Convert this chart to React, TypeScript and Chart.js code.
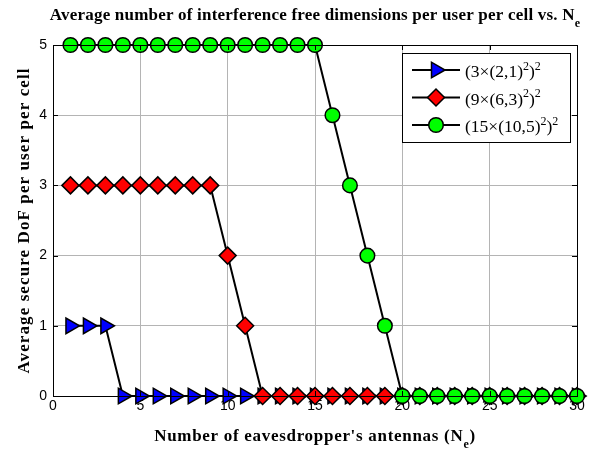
import React, { useEffect, useRef } from 'react';
import { Chart, registerables } from 'chart.js';
import { drawPoint } from 'chart.js/helpers';

Chart.register(...registerables);

const NE = [1, 2, 3, 4, 5, 6, 7, 8, 9, 10, 11, 12, 13, 14, 15, 16, 17, 18, 19, 20, 21, 22, 23, 24, 25, 26, 27, 28, 29, 30];
const DOF_A = [1, 1, 1, 0, 0, 0, 0, 0, 0, 0, 0, 0, 0, 0, 0, 0, 0, 0, 0, 0, 0, 0, 0, 0, 0, 0, 0, 0, 0, 0];
const DOF_B = [3, 3, 3, 3, 3, 3, 3, 3, 3, 2, 1, 0, 0, 0, 0, 0, 0, 0, 0, 0, 0, 0, 0, 0, 0, 0, 0, 0, 0, 0];
const DOF_C = [5, 5, 5, 5, 5, 5, 5, 5, 5, 5, 5, 5, 5, 5, 5, 4, 3, 2, 1, 0, 0, 0, 0, 0, 0, 0, 0, 0, 0, 0];
const X_TICKS = [0, 5, 10, 15, 20, 25, 30];
const Y_TICKS = [0, 1, 2, 3, 4, 5];

type Piece = { t: string; sup?: boolean; sub?: boolean };
const LEGEND_A: Piece[] = [{ t: '(3×(2,1)' }, { t: '2', sup: true }, { t: ')' }, { t: '2', sup: true }];
const LEGEND_B: Piece[] = [{ t: '(9×(6,3)' }, { t: '2', sup: true }, { t: ')' }, { t: '2', sup: true }];
const LEGEND_C: Piece[] = [{ t: '(15×(10,5)' }, { t: '2', sup: true }, { t: ')' }, { t: '2', sup: true }];
const TITLE: Piece[] = [{ t: 'Average number of interference free dimensions per user per cell vs. N' }, { t: 'e', sub: true }];
const X_LABEL: Piece[] = [{ t: "Number of eavesdropper's antennas (N" }, { t: 'e', sub: true }, { t: ')' }];
const Y_LABEL: Piece[] = [{ t: 'Average secure DoF per user per cell' }];

const SERIF = '"Liberation Serif", "Times New Roman", serif';

function drawRich(ctx: CanvasRenderingContext2D, pieces: Piece[], x: number, y: number, size: number, bold: boolean, align: 'left' | 'center', spacing = 0) {
  const w = bold ? 'bold ' : '';
  const small = Math.round(size * 0.7);
  const fontFor = (p: Piece) => `${w}${p.sup || p.sub ? small : size}px ${SERIF}`;
  (ctx as any).letterSpacing = `${spacing}px`;
  let total = 0;
  for (const p of pieces) {
    ctx.font = fontFor(p);
    total += ctx.measureText(p.t).width;
  }
  let cx = align === 'center' ? x - total / 2 : x;
  ctx.textAlign = 'left';
  ctx.textBaseline = 'alphabetic';
  ctx.fillStyle = '#000';
  for (const p of pieces) {
    ctx.font = fontFor(p);
    const dy = p.sup ? -size * 0.42 : p.sub ? size * 0.4 : 0;
    ctx.fillText(p.t, cx, y + dy);
    cx += ctx.measureText(p.t).width;
  }
  (ctx as any).letterSpacing = '0px';
}

const decorPlugin = {
  id: 'decor',
  afterDraw(chart: any) {
    const ctx: CanvasRenderingContext2D = chart.ctx;
    const { left, right, top, bottom } = chart.chartArea;
    const xs = chart.scales.x;
    const ys = chart.scales.y;
    ctx.save();
    ctx.strokeStyle = '#000';
    ctx.lineWidth = 1;
    ctx.strokeRect(Math.round(left) + 0.5, Math.round(top) + 0.5, Math.round(right - left), Math.round(bottom - top));
    const tl = 5;
    ctx.beginPath();
    for (const v of X_TICKS) {
      const px = Math.round(xs.getPixelForValue(v)) + 0.5;
      ctx.moveTo(px, bottom);
      ctx.lineTo(px, bottom - tl);
      ctx.moveTo(px, top);
      ctx.lineTo(px, top + tl);
    }
    for (const v of Y_TICKS) {
      const py = Math.round(ys.getPixelForValue(v)) + 0.5;
      ctx.moveTo(left, py);
      ctx.lineTo(left + tl, py);
      ctx.moveTo(right, py);
      ctx.lineTo(right - tl, py);
    }
    ctx.stroke();

    drawRich(ctx, TITLE, (left + right) / 2, 20, 17, true, 'center', 0.2);
    drawRich(ctx, X_LABEL, (left + right) / 2, 441, 17, true, 'center', 0.7);
    ctx.save();
    ctx.translate(29, (top + bottom) / 2);
    ctx.rotate(-Math.PI / 2);
    drawRich(ctx, Y_LABEL, 0, 0, 17, true, 'center', 1.1);
    ctx.restore();

    const lx = 402, ly = 53, lw = 168, lh = 89;
    ctx.fillStyle = '#fff';
    ctx.fillRect(lx, ly, lw, lh);
    ctx.strokeStyle = '#000';
    ctx.lineWidth = 1;
    ctx.strokeRect(lx + 0.5, ly + 0.5, lw, lh);
    const rows = [LEGEND_A, LEGEND_B, LEGEND_C];
    const dsets = chart.data.datasets;
    rows.forEach((pieces, i) => {
      const ry = ly + 17 + i * 27.5;
      const ds = dsets[i];
      ctx.strokeStyle = '#000';
      ctx.lineWidth = 2;
      ctx.beginPath();
      ctx.moveTo(lx + 10, ry);
      ctx.lineTo(lx + 58, ry);
      ctx.stroke();
      ctx.fillStyle = ds.pointBackgroundColor;
      ctx.strokeStyle = '#000';
      ctx.lineWidth = ds.pointBorderWidth;
      drawPoint(ctx, { pointStyle: ds.pointStyle, rotation: ds.pointRotation || 0, radius: ds.pointRadius, borderWidth: ds.pointBorderWidth }, lx + 34, ry);
      drawRich(ctx, pieces, lx + 63, ry + 7, 17.5, false, 'left');
    });
    ctx.restore();
  },
};

export default function App() {
  const ref = useRef<HTMLCanvasElement | null>(null);
  useEffect(() => {
    if (!ref.current) return;
    const mk = (vals: number[]) => NE.map((x, i) => ({ x, y: vals[i] }));
    const common = {
      borderColor: '#000',
      borderWidth: 2,
      pointBorderColor: '#000',
      pointBorderWidth: 1.5,
      tension: 0,
      clip: false as any,
      fill: false,
    };
    const tickFont = { family: '"Liberation Sans", Arial, sans-serif', size: 14 };
    const chart = new Chart(ref.current, {
      type: 'line',
      data: {
        datasets: [
          { ...common, label: 'A', data: mk(DOF_A), pointStyle: 'triangle', pointRotation: 90, pointRadius: 9, pointBackgroundColor: '#0000ff', order: 3 } as any,
          { ...common, label: 'B', data: mk(DOF_B), pointStyle: 'rectRot', pointRadius: 8.5, pointBackgroundColor: '#ff0000', order: 2 } as any,
          { ...common, label: 'C', data: mk(DOF_C), pointStyle: 'circle', pointRadius: 7.3, pointBackgroundColor: '#00ff00', order: 1 } as any,
        ],
      },
      options: {
        animation: false,
        responsive: false,
        devicePixelRatio: 1,
        layout: { padding: { left: 0, top: 45, right: 15, bottom: 0 } },
        plugins: { legend: { display: false }, tooltip: { enabled: false }, title: { display: false } },
        scales: {
          x: {
            type: 'linear',
            min: 0,
            max: 30,
            ticks: { stepSize: 5, color: '#000', font: tickFont, padding: 2, maxRotation: 0 },
            grid: { color: '#b4b4b4', drawTicks: false, lineWidth: 1 },
            border: { display: false },
            afterFit: (s: any) => { s.height = 54; },
          },
          y: {
            type: 'linear',
            min: 0,
            max: 5,
            ticks: { stepSize: 1, color: '#000', font: tickFont, padding: 6 },
            grid: { color: '#b4b4b4', drawTicks: false, lineWidth: 1 },
            border: { display: false },
            afterFit: (s: any) => { s.width = 53; },
          },
        },
      },
      plugins: [decorPlugin],
    });
    return () => chart.destroy();
  }, []);
  return (
    <div style={{ position: 'fixed', left: 0, top: 0, width: 592, height: 450, background: '#fff' }}>
      <canvas ref={ref} width={592} height={450} />
    </div>
  );
}
